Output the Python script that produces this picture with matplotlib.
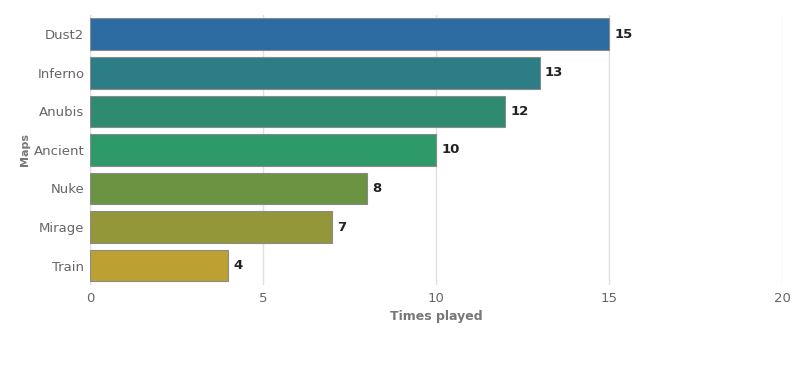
import matplotlib.pyplot as plt

maps = ["Dust2", "Inferno", "Anubis", "Ancient", "Nuke", "Mirage", "Train"]
times_played = [15, 13, 12, 10, 8, 7, 4]
colors = ["#2c6ca3", "#2d7d86", "#2e8b6f", "#2f9a69", "#6a9442", "#93973a", "#bda032"]
xticks = [0, 5, 10, 15, 20]

fig = plt.figure(figsize=(8, 3.72), dpi=100)
ax = fig.add_axes([0.1125, 0.234, 0.865, 0.726])

ypos = list(range(len(maps)))
ax.barh(ypos, times_played, height=0.82, color=colors, edgecolor="#8a8a8a",
        linewidth=0.8, zorder=3)
for y, v in zip(ypos, times_played):
    ax.text(v + 0.15, y, str(v), va="center", ha="left", fontsize=9.5,
            fontweight="bold", color="#222222")

ax.set_xlim(0, 20)
ax.set_ylim(len(maps) - 0.5, -0.5)
ax.set_yticks(ypos)
ax.set_yticklabels(maps)
ax.set_xticks(xticks)
ax.tick_params(axis="both", length=0, labelsize=9.5, colors="#666666")
ax.tick_params(axis="x", pad=5)
ax.tick_params(axis="y", pad=4)
ax.grid(axis="x", color="#e0e0e0", linewidth=1, zorder=0)
for s in ax.spines.values():
    s.set_visible(False)
ax.axvline(0, color="#dddddd", linewidth=1, zorder=1)

ax.set_xlabel("Times played", fontsize=9, fontweight="bold", color="#777777", labelpad=4)
ax.set_ylabel("Maps", fontsize=8, fontweight="bold", color="#777777")
ax.yaxis.set_label_coords(-0.087, 0.5)

fig.savefig("out.png", dpi=100)
